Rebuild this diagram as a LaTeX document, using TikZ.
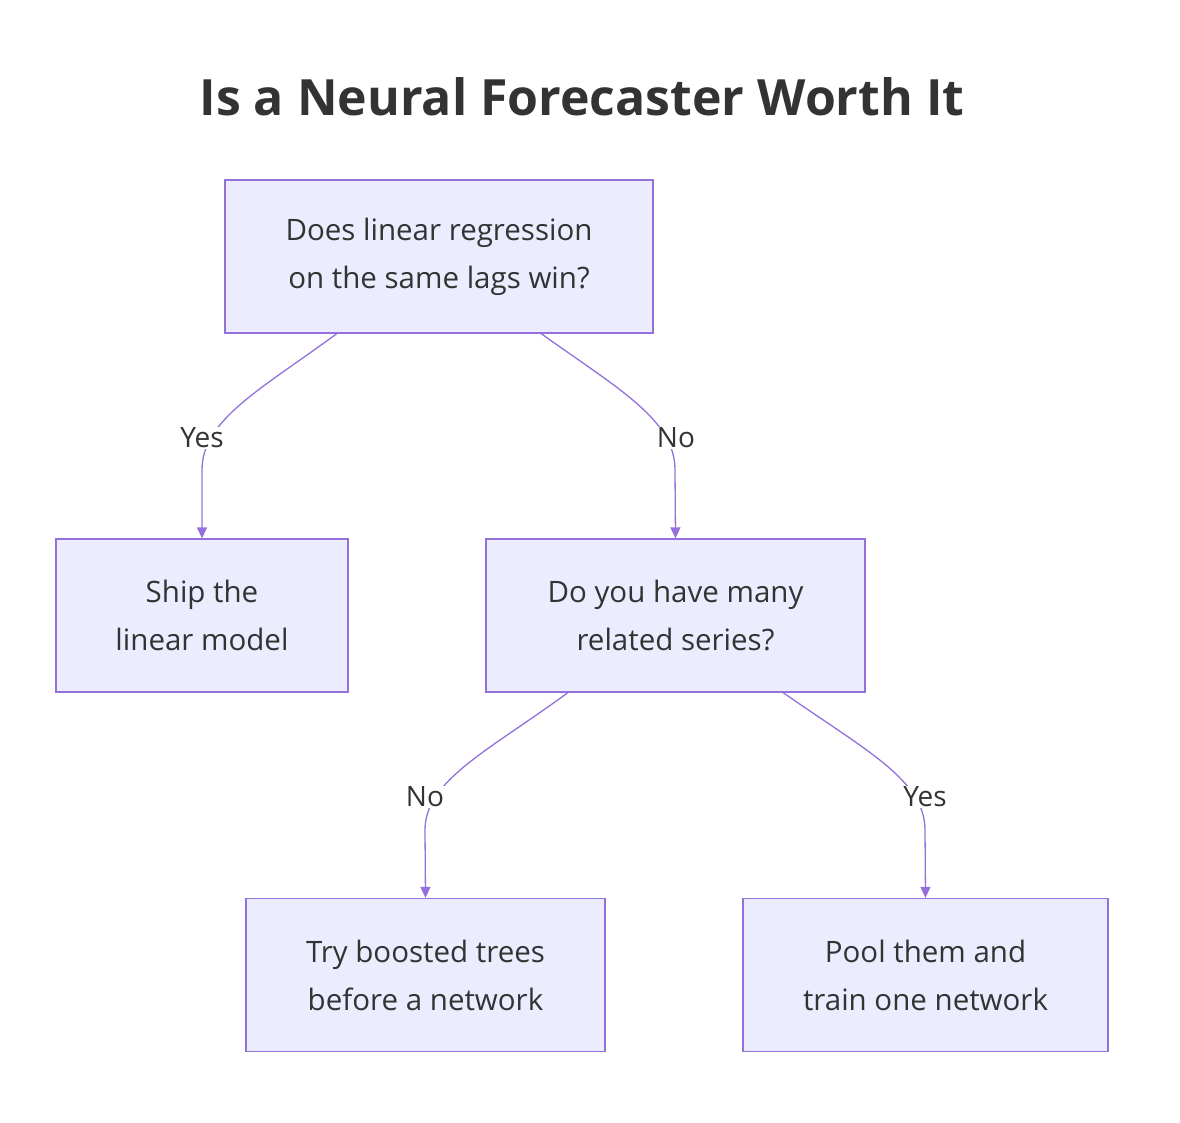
\documentclass[tikz,border=0pt]{standalone}
\usepackage{fontspec}
\setmainfont{Open Sans}
\usetikzlibrary{arrows.meta}
\definecolor{nfill}{HTML}{ECECFF}
\definecolor{nline}{HTML}{9370DB}
\definecolor{ntext}{HTML}{333333}
\begin{document}
\begin{tikzpicture}[x=1pt,y=-1pt,
  box/.style={draw=nline,fill=nfill,line width=1.3pt,text=ntext,font=\fontsize{29.5}{48}\selectfont,align=center,inner sep=0pt},
  edge/.style={draw=nline,line width=1.3pt,-{Triangle[length=11pt,width=10pt]}},
  lbl/.style={fill=white,text=ntext,font=\fontsize{28}{32}\selectfont,inner sep=1pt}]
\useasboundingbox (0,0) rectangle (1180,1122);
\node[text=ntext,font=\fontsize{50}{56}\selectfont\bfseries] (title) at (582,97) {Is a Neural Forecaster Worth It};
\node[box,minimum width=428,minimum height=153] (a) at (439,256.5) {Does linear regression\\on the same lags win?};
\node[box,minimum width=292,minimum height=153] (b) at (202,615.5) {Ship the\\linear model};
\node[box,minimum width=379,minimum height=153] (c) at (675.5,615.5) {Do you have many\\related series?};
\node[box,minimum width=359,minimum height=153] (d) at (425.5,975) {Try boosted trees\\before a network};
\node[box,minimum width=365,minimum height=153] (e) at (925.5,975) {Pool them and\\train one network};
\coordinate (a1) at (337,333.5); \coordinate (a2) at (541,333.5);
\coordinate (c1) at (568,692.5); \coordinate (c2) at (783,692.5);
\draw[edge] (a1) .. controls (260,390) and (202,420) .. (202,470) -- (b.north);
\draw[edge] (a2) .. controls (620,390) and (675,420) .. (675,470) -- (c.north);
\draw[edge] (c1) .. controls (490,750) and (425,780) .. (425,830) -- (d.north);
\draw[edge] (c2) .. controls (865,750) and (925,780) .. (925,830) -- (e.north);
\node[lbl] (l1) at (202,438) {Yes};
\node[lbl] (l2) at (676,438) {No};
\node[lbl] (l3) at (425,797) {No};
\node[lbl] (l4) at (925,797) {Yes};
\end{tikzpicture}
\end{document}
